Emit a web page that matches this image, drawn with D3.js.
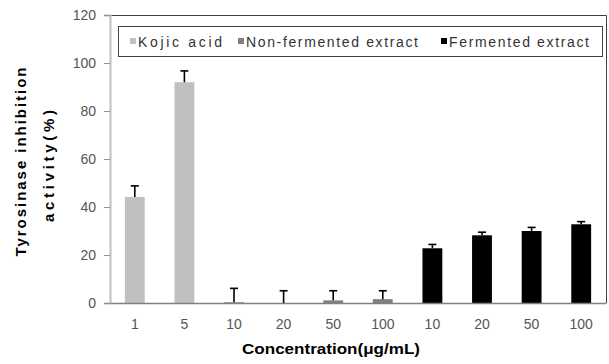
<!DOCTYPE html>
<html><head><meta charset="utf-8">
<script src="https://cdn.jsdelivr.net/npm/d3@7/dist/d3.min.js"></script>
<style>body{margin:0;background:#fff}svg{display:block}</style>
</head><body>
<svg id="c" width="609" height="364"></svg>
<script>
const tickLabels = ["1","5","10","20","50","100","10","20","50","100"];
const groups = ["Kojic acid","Kojic acid","Non-fermented extract","Non-fermented extract","Non-fermented extract","Non-fermented extract","Fermented extract","Fermented extract","Fermented extract","Fermented extract"];
const values = [44.2, 92.0, 0.3, 0, 1.1, 1.6, 22.8, 28.2, 30.0, 32.8];
const errors = [4.6, 4.7, 5.8, 5.1, 4.0, 3.5, 1.6, 1.3, 1.5, 1.1];
const seriesNames = ["Kojic acid","Non-fermented extract","Fermented extract"];
const seriesColors = ["#c0c0c0","#808080","#000000"];
const yTicks = [0,20,40,60,80,100,120];

const svg = d3.select("#c");
const L = 110, R = 606, T = 15, B = 303;
const idx = d3.range(values.length);
const x = d3.scaleBand().domain(idx).range([L, R]).paddingInner(0.6).paddingOuter(0.3);
const y = d3.scaleLinear().domain([0,120]).range([B, T]);
const color = d3.scaleOrdinal().domain(seriesNames).range(seriesColors);

// top & right border
svg.append("path").attr("d", `M${L},${T+0.5}H${R+0.5}V${B}`).attr("fill","none").attr("stroke","#404040").attr("stroke-width",1);

// y axis
const ya = svg.append("g").attr("transform",`translate(${L},0)`)
  .call(d3.axisLeft(y).tickValues(yTicks).tickSize(6).tickPadding(8));
ya.select(".domain").attr("stroke","#c0c0c0").attr("stroke-width",2);
ya.selectAll(".tick line").attr("stroke","#909090");
ya.selectAll("text").attr("font-family","Liberation Sans, Arial, sans-serif").attr("font-size",14).attr("fill","#555");

// bars
svg.append("g").selectAll("rect").data(idx).join("rect")
  .attr("x", i => x(i)).attr("width", x.bandwidth())
  .attr("y", i => y(values[i])).attr("height", i => B - y(values[i]))
  .attr("fill", i => color(groups[i]));

// x axis
const xa = svg.append("g").attr("transform",`translate(0,${B})`)
  .call(d3.axisBottom(x).tickFormat(i => tickLabels[i]).tickSize(0).tickPadding(16));
xa.select(".domain").attr("stroke","#808080").attr("stroke-width",1.5);
xa.selectAll("text").attr("font-family","Liberation Sans, Arial, sans-serif").attr("font-size",14).attr("fill","#555");

// error bars
const eb = svg.append("g").attr("stroke","#000").attr("stroke-width",1.6);
eb.selectAll("line.v").data(idx).join("line")
  .attr("x1", i => x(i)+x.bandwidth()/2).attr("x2", i => x(i)+x.bandwidth()/2)
  .attr("y1", i => y(values[i])).attr("y2", i => y(values[i]+errors[i]));
eb.selectAll("line.h").data(idx).join("line")
  .attr("x1", i => x(i)+x.bandwidth()/2-4).attr("x2", i => x(i)+x.bandwidth()/2+4)
  .attr("y1", i => y(values[i]+errors[i])).attr("y2", i => y(values[i]+errors[i]));

// legend
svg.append("rect").attr("x",118.5).attr("y",26.5).attr("width",484).attr("height",30)
  .attr("fill","#fff").attr("stroke","#404040").attr("stroke-width",1);
const legX = [130, 238, 441];
const legW = [84, 172, 140];
seriesNames.forEach((s,k) => {
  svg.append("rect").attr("x",legX[k]).attr("y",38).attr("width",6).attr("height",6).attr("fill",seriesColors[k]);
  svg.append("text").attr("x",legX[k]+8).attr("y",47)
    .attr("font-family","Liberation Sans, Arial, sans-serif").attr("font-size",14).attr("fill","#333")
    .attr("textLength",legW[k]).attr("lengthAdjust","spacing").text(s);
});

// axis titles
svg.append("text").attr("transform","translate(26,162) rotate(-90)").attr("text-anchor","middle")
  .attr("font-family","Liberation Sans, Arial, sans-serif").attr("font-weight","bold").attr("font-size",15)
  .attr("textLength",189).attr("lengthAdjust","spacing").text("Tyrosinase inhibition");
svg.append("text").attr("transform","translate(54,166) rotate(-90)").attr("text-anchor","middle")
  .attr("font-family","Liberation Sans, Arial, sans-serif").attr("font-weight","bold").attr("font-size",15)
  .attr("textLength",112).attr("lengthAdjust","spacing").text("activity(%)");
svg.append("text").attr("x",331).attr("y",354).attr("text-anchor","middle")
  .attr("font-family","Liberation Sans, Arial, sans-serif").attr("font-weight","bold").attr("font-size",15)
  .attr("textLength",178).attr("lengthAdjust","spacingAndGlyphs").text("Concentration(μg/mL)");
</script>
</body></html>
